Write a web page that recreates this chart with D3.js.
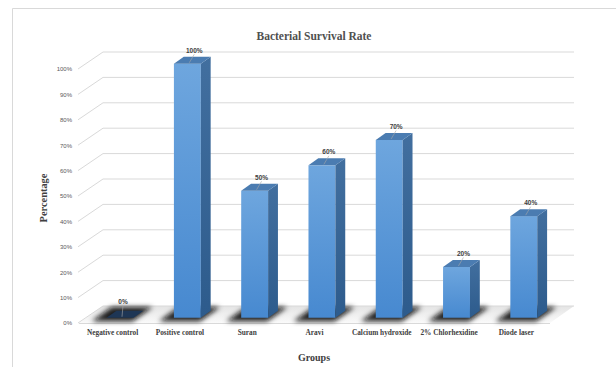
<!DOCTYPE html>
<html>
<head>
<meta charset="utf-8">
<script src="https://cdn.jsdelivr.net/npm/d3@7"></script>
<style>
  html, body { margin: 0; padding: 0; background: #fff; }
  svg { display: block; }
</style>
</head>
<body>
<div id="chart"></div>
<script>
// Bacterial survival rate per treatment group
const categories = ["Negative control", "Positive control", "Suran", "Aravi",
                    "Calcium hydroxide", "2% Chlorhexidine", "Diode laser"];
const survival = [0, 100, 50, 60, 70, 20, 40];
const tickValues = [0, 10, 20, 30, 40, 50, 60, 70, 80, 90, 100];
const tickLabels = tickValues.map(v => v + "%");

const W = 616, H = 367;
// 3-D box: front floor edge, and the depth vector pointing into the page
const OX = 79, FLOOR_Y = 323, PLOT_W = 471, DX = 24, DY = 17;
const W0 = 0.31, W1 = 0.72; // bar depth extent within the box

const svg = d3.select("#chart").append("svg")
  .attr("width", W).attr("height", H);

const x = d3.scaleBand().domain(categories).range([0, PLOT_W])
  .paddingInner(0.6).paddingOuter(0.3);
const y = d3.scaleLinear().domain([0, 100]).range([0, 254]);

// project (front-plane x offset, value, depth 0..1) to screen
function P(u, v, w) {
  return [OX + u + w * DX, FLOOR_Y - y(v) - w * DY];
}
const pts = arr => arr.map(p => p.join(",")).join(" ");

const defs = svg.append("defs");
const gFront = defs.append("linearGradient").attr("id", "front")
  .attr("x1", 0).attr("y1", 0).attr("x2", 0).attr("y2", 1);
gFront.append("stop").attr("offset", 0).attr("stop-color", "#6ea6de");
gFront.append("stop").attr("offset", 1).attr("stop-color", "#4789d0");
const gSide = defs.append("linearGradient").attr("id", "side")
  .attr("x1", 0).attr("y1", 0).attr("x2", 0).attr("y2", 1);
gSide.append("stop").attr("offset", 0).attr("stop-color", "#426f9f");
gSide.append("stop").attr("offset", 1).attr("stop-color", "#2d5b8c");
const gFloor = defs.append("linearGradient").attr("id", "floor")
  .attr("x1", 0).attr("y1", 0).attr("x2", 0).attr("y2", 1);
gFloor.append("stop").attr("offset", 0).attr("stop-color", "#e4e4e4");
gFloor.append("stop").attr("offset", 1).attr("stop-color", "#fafafa");
defs.append("filter").attr("id", "blur")
  .attr("x", "-50%").attr("y", "-100%").attr("width", "200%").attr("height", "300%")
  .append("feGaussianBlur").attr("stdDeviation", 2.4);

// chart area outline
svg.append("path").attr("d", `M12.5,${H} V8.5 H${W}`)
  .attr("fill", "none").attr("stroke", "#d9d9d9").attr("stroke-width", 1);

// title
svg.append("text").attr("x", 314).attr("y", 40).attr("text-anchor", "middle")
  .attr("font-family", "'Liberation Serif', 'Times New Roman', serif")
  .attr("font-weight", "bold").attr("font-size", 11.5).attr("fill", "#505050")
  .text("Bacterial Survival Rate");

// floor
svg.append("polygon")
  .attr("points", pts([P(0, 0, 0), P(PLOT_W, 0, 0), P(PLOT_W, 0, 1), P(0, 0, 1)]))
  .attr("fill", "url(#floor)").attr("stroke", "none");
svg.append("line")
  .attr("x1", P(0, 0, 0)[0]).attr("y1", FLOOR_Y + 0.5)
  .attr("x2", P(PLOT_W, 0, 0)[0]).attr("y2", FLOOR_Y + 0.5)
  .attr("stroke", "#d9d9d9").attr("stroke-width", 1);

// gridlines: side wall diagonals and back wall horizontals
const grid = svg.append("g").attr("stroke", "#d9d9d9").attr("stroke-width", 1).attr("fill", "none");
tickValues.forEach(v => {
  const a = P(-1, v, 0), b = P(0, v, 1), c = P(PLOT_W, v, 1);
  grid.append("polyline").attr("points", pts([a, b, c]));
});

// value axis labels
const axis = svg.append("g");
tickValues.forEach((v, i) => {
  axis.append("text").attr("x", 72).attr("y", FLOOR_Y - y(v) + 2.3)
    .attr("text-anchor", "end")
    .attr("font-family", "'Liberation Sans', Arial, sans-serif")
    .attr("font-size", 6).attr("fill", "#595959")
    .text(tickLabels[i]);
});

// bar shadows on the floor
const shadows = svg.append("g").attr("filter", "url(#blur)");
categories.forEach(c => {
  const u0 = x(c) - 10, u1 = x(c) + x.bandwidth() + 4;
  shadows.append("polygon")
    .attr("points", pts([P(u0, 0, 0.1), P(u1, 0, 0.1), P(u1, 0, 0.94), P(u0, 0, 0.94)]))
    .attr("fill", "#111").attr("opacity", 0.92);
});

// bars
const bars = svg.append("g");
categories.forEach((c, i) => {
  const v = survival[i];
  const u0 = x(c), u1 = x(c) + x.bandwidth();
  const g = bars.append("g");
  if (v === 0) {
    g.append("polygon")
      .attr("points", pts([P(u0, 0, W0), P(u1, 0, W0), P(u1, 0, W1), P(u0, 0, W1)]))
      .attr("fill", "#1e3655");
    return;
  }
  const f0 = P(u0, v, W0), f1 = P(u1, 0, W0);
  g.append("rect").attr("x", f0[0]).attr("y", f0[1])
    .attr("width", f1[0] - f0[0]).attr("height", f1[1] - f0[1])
    .attr("fill", "url(#front)");
  g.append("polygon")
    .attr("points", pts([P(u1, 0, W0), P(u1, 0, W1), P(u1, v, W1), P(u1, v, W0)]))
    .attr("fill", "url(#side)");
  g.append("polygon")
    .attr("points", pts([P(u0, v, W0), P(u1, v, W0), P(u1, v, W1), P(u0, v, W1)]))
    .attr("fill", "#4b7cb1");
});

// data labels with short leader lines; labels stay clear of the floor
const labels = svg.append("g");
categories.forEach((c, i) => {
  const v = survival[i];
  const t = P(x(c) + x.bandwidth() / 2, v, (W0 + W1) / 2);
  const lx = t[0] + (v === 0 ? -2 : 2);
  const ly = Math.min(t[1] - 7.5, FLOOR_Y - 19);
  labels.append("line")
    .attr("x1", t[0] - 3).attr("y1", t[1] + 2.5)
    .attr("x2", lx).attr("y2", ly + 1.5)
    .attr("stroke", "#a6a6a6").attr("stroke-width", 0.6);
  labels.append("text").attr("x", lx).attr("y", ly)
    .attr("text-anchor", "middle")
    .attr("font-family", "'Liberation Sans', Arial, sans-serif")
    .attr("font-weight", "bold").attr("font-size", 6.5).attr("fill", "#404040")
    .text(v + "%");
});

// category labels
const cats = svg.append("g");
categories.forEach(c => {
  cats.append("text").attr("x", OX + x(c) + x.bandwidth() / 2).attr("y", 334.5)
    .attr("text-anchor", "middle")
    .attr("font-family", "'Liberation Serif', 'Times New Roman', serif")
    .attr("font-weight", "bold").attr("font-size", 7.3).attr("fill", "#404040")
    .text(c);
});

// axis titles
svg.append("text").attr("x", 314).attr("y", 360.5).attr("text-anchor", "middle")
  .attr("font-family", "'Liberation Serif', 'Times New Roman', serif")
  .attr("font-weight", "bold").attr("font-size", 10).attr("fill", "#404040")
  .text("Groups");
svg.append("text").attr("transform", "translate(47,198) rotate(-90)")
  .attr("text-anchor", "middle")
  .attr("font-family", "'Liberation Serif', 'Times New Roman', serif")
  .attr("font-weight", "bold").attr("font-size", 10.4).attr("fill", "#404040")
  .text("Percentage");
</script>
</body>
</html>
